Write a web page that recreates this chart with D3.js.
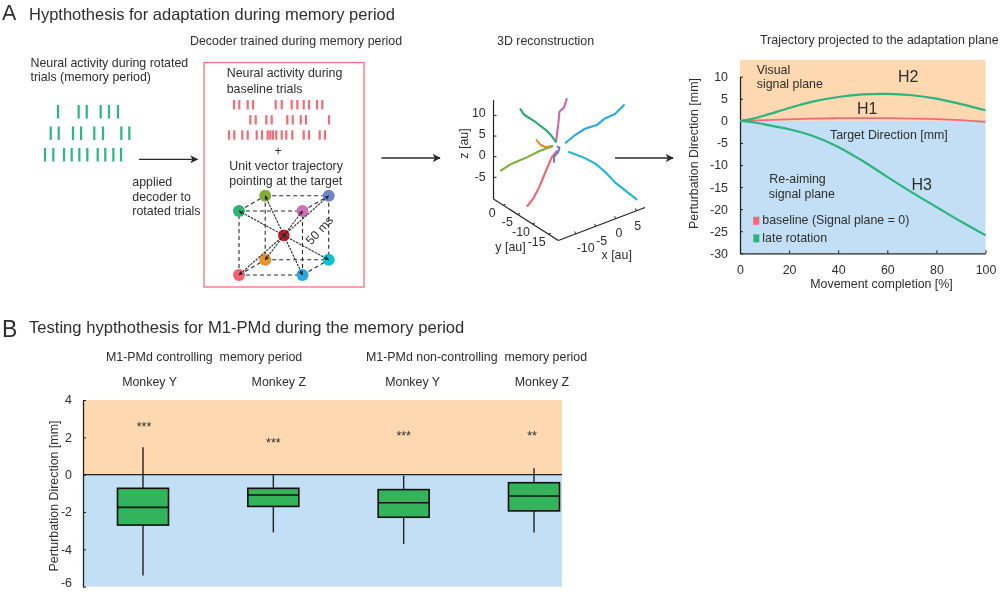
<!DOCTYPE html>
<html><head><meta charset="utf-8">
<script src="https://cdnjs.cloudflare.com/ajax/libs/d3/7.8.5/d3.min.js"></script>
<style>
html,body{margin:0;padding:0;background:#fff}
svg{display:block;filter:blur(0.35px)}
text{font-family:"Liberation Sans",Arial,sans-serif;fill:#2e2e2e}
</style></head><body>
<svg id="c" width="1000" height="592"></svg>
<script>
// ---- raster data (spike times, % of memory period)
const rotatedSpikes = [
 [15.3,39.6,49.1,65.5,75.3,85.9],
 [6.7,16.1,32.9,42.4,58,68.2,89.8,99.2],
 [0,9.8,22.4,31.4,40.4,49.8,62,70.9,80.4,89.4]];
const baselineSpikes = [
 [5,10.3,18.7,24,46.7,52.7,62.7,68.3,74.7,80,88,93.3],
 [21.3,26.7,37.3,42.7,58.3,63.7,71.7,77,100],
 [0,5.3,13.3,18.7,27.7,33,38.7,41.3,44,47.3,52.7,57.3,63.3,74.7,80,90.7,96]];
// ---- cube targets (unit vectors)
const targetNames = ["red","sky","green","magenta","olive","periwinkle","orange","cyan"];
const targetX = [-1,1,-1,1,-1,1,-1,1];
const targetY = [-1,-1,1,1,1,1,-1,-1];
const targetZ = [0,0,0,0,1,1,1,1];
const cubeEdges = [[0,1],[2,3],[4,5],[6,7],[0,2],[1,3],[4,6],[5,7],[0,6],[1,7],[2,4],[3,5]];
// ---- 3D reconstruction, projected to picture plane [u au, z au]
const traceMagenta = [[2.42,13.95],[1.77,11.94],[.65,10.89],[.4,8.06],[-.16,3.63]];
const traceSky = [[16.29,12.5],[14.11,10.32],[11.69,9.27],[9.68,7.66],[6.85,6.77],[4.44,5.24],[2.18,3.39]];
const traceGreen = [[-8.79,11.53],[-7.9,10.16],[-5.24,8.47],[-2.58,6.45],[-1.21,5],[-.24,3.63]];
const traceOrange = [[-4.84,4.03],[-3.87,2.82],[-2.82,2.34],[-1.05,2.58]];
const traceOlive = [[-13.47,-3.31],[-10.89,-1.69],[-7.26,-.16],[-4.03,1.45],[-1.05,2.5]];
const traceRed = [[-7.1,-11.94],[-5.65,-10.08],[-4.19,-7.26],[-2.42,-2.98],[-1.21,-.16],[0,1.37]];
const tracePeriwinkle = [[-.65,-1.21],[-.65,0],[.4,1.21],[.65,2.18],[.24,2.42]];
const traceCyan = [[19.35,-10.32],[16.94,-8.47],[14.11,-6.21],[11.69,-3.63],[9.27,-1.61],[6.45,-.16],[2.98,1.13]];
const axis3dCorners = {top:[-15.3,13.7],back:[-15.3,-10.24],front:[.4,-20.3],right:[21.4,-12.3]};
const zTicks3d = [10,5,0,-5];
const yTickLabels3d = ["0","-5","-10","-15"];
const xTickLabels3d = ["-10","-5","0","5"];
// ---- adaptation plane curves
const completion = [0,5,10,20,30,40,50,60,70,80,90,100];
const h1Values = [0,.08,.15,.35,.5,.6,.62,.6,.52,.4,.15,-.2];
const h2Values = [0,.45,1.2,2.9,4.4,5.4,6,6.1,5.8,5.05,3.8,2.4];
const h3Values = [0,-.3,-.8,-1.9,-3.5,-5.9,-9.1,-12.7,-16.2,-19.5,-22.8,-25.9];
const yTicksA = [10,5,0,-5,-10,-15,-20,-25,-30];
const xTicksA = [0,20,40,60,80,100];
// ---- box plot
const monkeys = ["Monkey Y","Monkey Z","Monkey Y","Monkey Z"];
const stars = ["***","***","***","**"];
const starValues = [2.6,1.75,2.1,2.1];
const whiskerHigh = [1.47,0,-.05,.34];
const q3 = [-.73,-.73,-.8,-.43];
const medians = [-1.75,-1.09,-1.5,-1.14];
const q1 = [-2.7,-1.7,-2.28,-1.94];
const whiskerLow = [-5.4,-3.09,-3.71,-3.1];
const yTicksB = [4,2,0,-2,-4,-6];

const svg = d3.select("#c");
function txt(t,x,y,size,opt={}){
  const e = svg.append("text").attr("x",x).attr("y",y).attr("font-size",size).text(t);
  if(opt.anchor) e.attr("text-anchor",opt.anchor);
  if(opt.rotate!==undefined) e.attr("transform",`rotate(${opt.rotate} ${x} ${y})`);
  if(opt.fill) e.style("fill",opt.fill);
  return e;
}
const defs = svg.append("defs");
function marker(id,size,col){
  defs.append("marker").attr("id",id).attr("viewBox","0 0 10 10").attr("refX",9).attr("refY",5)
    .attr("markerWidth",size).attr("markerHeight",size).attr("markerUnits","userSpaceOnUse").attr("orient","auto")
    .append("path").attr("d","M0,0L10,5L0,10L2.5,5Z").attr("fill",col);
}
marker("ah",8,"#2b2b2b"); marker("ahs",4.5,"#222");
const TXT=12.4, BG_O="#fdd8b0", BG_B="#c2dff5";
const hyphenFmt = d=>String(d);

// Headings
txt("A",2,19.5,21.5); txt("Hypthothesis for adaptation during memory period",29,20,16.5);
txt("B",2,337,23); txt("Testing hypthothesis for M1-PMd during the memory period",29,333,16.6);

// Left text
txt("Neural activity during rotated",30.5,66.5,TXT);
txt("trials (memory period)",30.5,81,TXT);
txt("applied",132.3,185.5,TXT); txt("decoder to",132.3,200.5,TXT); txt("rotated trials",132.3,215,TXT);
txt("Decoder trained during memory period",190,45,TXT);
txt("3D reconstruction",497,45,TXT);
txt("Trajectory projected to the adaptation plane",760,44,TXT);

// Rasters
const rotX = d3.scaleLinear().domain([0,100]).range([45,130]);
const rotRow = d3.scaleBand().domain(d3.range(3)).range([105,161.5]).paddingInner(.37);
rotatedSpikes.forEach((r,i)=>svg.append("g").selectAll("line").data(r).join("line")
  .attr("x1",rotX).attr("x2",rotX).attr("y1",rotRow(i)).attr("y2",rotRow(i)+rotRow.bandwidth())
  .attr("stroke","#2db67f").attr("stroke-width",2.2));
const baseX = d3.scaleLinear().domain([0,100]).range([229,329]);
const baseRow = d3.scaleBand().domain(d3.range(3)).range([100,139.7]).paddingInner(.38);
baselineSpikes.forEach((r,i)=>svg.append("g").selectAll("line").data(r).join("line")
  .attr("x1",baseX).attr("x2",baseX).attr("y1",baseRow(i)).attr("y2",baseRow(i)+baseRow.bandwidth())
  .attr("stroke","#f26c78").attr("stroke-width",2.2));

// Pink box
svg.append("rect").attr("x",204).attr("y",62.5).attr("width",160).attr("height",224.5)
  .attr("fill","none").attr("stroke","#f0747e").attr("stroke-width",1.3);
txt("Neural activity during",226.7,77.3,TXT); txt("baseline trials",226.7,92.5,TXT);
txt("+",278,155,TXT,{anchor:"middle"});
txt("Unit vector trajectory",229.3,170,TXT); txt("pointing at the target",229.3,185,TXT);

// Cube
const cubeX = d3.scaleLinear().domain([-1,1]).range([239,302.5]);
const cubeY = d3.scaleLinear().domain([-1,1]).range([275,211]);
const depthX = d3.scaleLinear().domain([0,1]).range([0,26.2]);
const depthY = d3.scaleLinear().domain([0,1]).range([0,-15.2]);
const px=i=>cubeX(targetX[i])+depthX(targetZ[i]), py=i=>cubeY(targetY[i])+depthY(targetZ[i]);
const cx0=cubeX(0)+depthX(.5), cy0=cubeY(0)+depthY(.5);
const targetColors=["#f2636f","#2ba9e1","#2fb573","#d26fb6","#83ad38","#6f85c6","#e8932b","#16bcd1"];
svg.append("g").selectAll("line").data(cubeEdges).join("line")
  .attr("x1",d=>px(d[0])).attr("y1",d=>py(d[0])).attr("x2",d=>px(d[1])).attr("y2",d=>py(d[1]))
  .attr("stroke","#2a2a2a").attr("stroke-width",1.1).attr("stroke-dasharray","4 3");
svg.append("g").selectAll("circle").data(targetNames).join("circle")
  .attr("cx",(d,i)=>px(i)).attr("cy",(d,i)=>py(i)).attr("r",6).attr("fill",(d,i)=>targetColors[i]);
svg.append("circle").attr("cx",cx0).attr("cy",cy0).attr("r",5.8).attr("fill","#c81e25");
svg.append("g").selectAll("line").data(targetNames).join("line")
  .attr("x1",cx0).attr("y1",cy0).attr("x2",(d,i)=>px(i)).attr("y2",(d,i)=>py(i))
  .attr("stroke","#2a2a2a").attr("stroke-width",1.1).attr("stroke-dasharray","2.5 1")
  .attr("marker-end","url(#ahs)");
txt("50 ms",311,245.5,TXT,{rotate:-47});

// Arrows
[[139,197.5,159.3],[381.5,440,158],[615,673,158]].forEach(a=>
  svg.append("line").attr("x1",a[0]).attr("x2",a[1]).attr("y1",a[2]).attr("y2",a[2])
   .attr("stroke","#2b2b2b").attr("stroke-width",1.3).attr("marker-end","url(#ah)"));

// 3D plot
const uS = d3.scaleLinear().domain([0,10]).range([556.7,598]);
const zS = d3.scaleLinear().domain([0,10]).range([156.7,115.4]);
const c=axis3dCorners;
[[c.top,c.back],[c.back,c.front],[c.front,c.right]].forEach(s=>
  svg.append("line").attr("x1",uS(s[0][0])).attr("y1",zS(s[0][1])).attr("x2",uS(s[1][0])).attr("y2",zS(s[1][1]))
   .attr("stroke","#222").attr("stroke-width",1.2));
svg.append("g").selectAll("line").data(zTicks3d).join("line")
  .attr("x1",uS(c.top[0])).attr("x2",uS(c.top[0])+3).attr("y1",zS).attr("y2",zS).attr("stroke","#222");
const axisFrac = (a,b,f)=>[a[0]+(b[0]-a[0])*f,a[1]+(b[1]-a[1])*f];
const yFracs=[.15,.37,.6,.85], xFracs=[.2,.43,.66,.9];
yFracs.forEach(f=>{const p=axisFrac(c.back,c.front,f);
  svg.append("line").attr("x1",uS(p[0])).attr("y1",zS(p[1])).attr("x2",uS(p[0])+2.5).attr("y2",zS(p[1])-1).attr("stroke","#222");});
xFracs.forEach(f=>{const p=axisFrac(c.front,c.right,f);
  svg.append("line").attr("x1",uS(p[0])).attr("y1",zS(p[1])).attr("x2",uS(p[0])-1).attr("y2",zS(p[1])-2.5).attr("stroke","#222");});
const line3=d3.line().x(d=>uS(d[0])).y(d=>zS(d[1])).curve(d3.curveLinear);
[[traceMagenta,"#c968b1"],[traceSky,"#2ba8df"],[traceGreen,"#2ba968"],[traceOrange,"#e58f27"],
 [traceOlive,"#7fae3d"],[traceRed,"#ee6573"],[tracePeriwinkle,"#6b80c4"],[traceCyan,"#1ab9cf"]].forEach(t=>
  svg.append("path").attr("d",line3(t[0])).attr("fill","none").attr("stroke",t[1]).attr("stroke-width",2.1).attr("stroke-linecap","round").attr("stroke-linejoin","round"));
[["10",116.7],["5",138],["0",159],["-5",180.5]].forEach(d=>txt(d[0],485.7,d[1],TXT,{anchor:"end"}));
txt("z [au]",467.5,143.5,TXT,{anchor:"middle",rotate:-90});
[[492.3,217],[507.3,226],[521,236],[536.7,246]].forEach((p,i)=>txt(yTickLabels3d[i],p[0],p[1],TXT,{anchor:"middle"}));
txt("y [au]",495.3,250.7,TXT);
[[585.7,252],[601.7,244.5],[619,237],[637.7,230]].forEach((p,i)=>txt(xTickLabels3d[i],p[0],p[1],TXT,{anchor:"middle"}));
txt("x [au]",616.7,258.5,TXT,{anchor:"middle"});

// Adaptation plane
const xA = d3.scaleLinear().domain([0,100]).range([740,985.5]);
const yA = d3.scaleLinear().domain([10,-30]).range([76.7,253.3]);
const topA = yA.invert(60);
svg.append("rect").attr("x",xA(0)).attr("y",yA(topA)).attr("width",xA(100)-xA(0)).attr("height",yA(0)-yA(topA)).attr("fill",BG_O);
svg.append("rect").attr("x",xA(0)).attr("y",yA(0)).attr("width",xA(100)-xA(0)).attr("height",yA(-30)-yA(0)).attr("fill",BG_B);
const axL = svg.append("g").attr("transform",`translate(${xA(0)},0)`).call(d3.axisLeft(yA).tickValues(yTicksA).tickSize(0).tickPadding(12).tickFormat(hyphenFmt));
axL.selectAll("line").attr("x2",3).attr("stroke","#222");
const axB = svg.append("g").attr("transform",`translate(0,${yA(-30)})`).call(d3.axisBottom(xA).tickValues(xTicksA).tickSizeInner(-3).tickSizeOuter(0).tickPadding(12));
[axL,axB].forEach(a=>{a.selectAll("path").attr("stroke","#222").attr("stroke-width",1.3);
  a.selectAll("line").attr("stroke","#222");
  a.selectAll("text").attr("font-size",TXT).attr("font-family",'"Liberation Sans",Arial,sans-serif').style("fill","#2e2e2e");});
const lineA=d3.line().x((d,i)=>xA(completion[i])).y(d=>yA(d)).curve(d3.curveCatmullRom);
svg.append("path").attr("d",lineA(h1Values)).attr("fill","none").attr("stroke","#f2697a").attr("stroke-width",1.8);
svg.append("path").attr("d",lineA(h2Values)).attr("fill","none").attr("stroke","#2bb47d").attr("stroke-width",2.2);
svg.append("path").attr("d",lineA(h3Values)).attr("fill","none").attr("stroke","#2bb47d").attr("stroke-width",2.2);
txt("Visual",756.7,74,TXT); txt("signal plane",756.7,88,TXT);
txt("H2",898,82,16); txt("H1",857,114,16); txt("H3",911.5,190,16);
txt("Target Direction [mm]",830,139,TXT);
txt("Re-aiming",769.3,183,TXT); txt("signal plane",768.7,197.7,TXT);
svg.append("rect").attr("x",753.3).attr("y",216.7).attr("width",6).attr("height",8).attr("fill","#f2697a");
svg.append("rect").attr("x",753.3).attr("y",234.3).attr("width",6).attr("height",8).attr("fill","#2bb47d");
txt("baseline (Signal plane = 0)",762.3,224,TXT); txt("late rotation",762.3,242,TXT);
txt("Perturbation Direction [mm]",698,153.5,TXT,{anchor:"middle",rotate:-90});
txt("Movement completion [%]",881.5,288,TXT,{anchor:"middle"});

// Box plots
txt("M1-PMd controlling  memory period",106,361,TXT).attr("xml:space","preserve");
txt("M1-PMd non-controlling  memory period",366,361,TXT).attr("xml:space","preserve");
const xB = d3.scaleLinear().domain([0,4]).range([83,562]);
const yB = d3.scaleLinear().domain([4,-6]).range([400,586.7]);
svg.append("rect").attr("x",xB(0)).attr("y",yB(4)).attr("width",xB(4)-xB(0)).attr("height",yB(0)-yB(4)).attr("fill",BG_O);
svg.append("rect").attr("x",xB(0)).attr("y",yB(0)).attr("width",xB(4)-xB(0)).attr("height",yB(-6)-yB(0)).attr("fill",BG_B);
const axY = svg.append("g").attr("transform",`translate(${xB(0)},0)`).call(d3.axisLeft(yB).tickValues(yTicksB).tickSize(0).tickPadding(11).tickFormat(hyphenFmt));
axY.selectAll("line").attr("x2",3).attr("stroke","#222");
axY.selectAll("path").attr("stroke","#222").attr("stroke-width",1.3);
axY.selectAll("text").attr("font-size",TXT).attr("font-family",'"Liberation Sans",Arial,sans-serif').style("fill","#2e2e2e");
axY.selectAll("text").filter(d=>d===-6).attr("dy","-0.02em");
svg.append("line").attr("x1",xB(0)).attr("x2",xB(4)).attr("y1",yB(0)).attr("y2",yB(0)).attr("stroke","#222").attr("stroke-width",1.2);
txt("Perturbation Direction [mm]",58,496,TXT,{anchor:"middle",rotate:-90});
const boxC = d3.scalePoint().domain(d3.range(4)).range([143,534]);
const boxW = 51;
monkeys.forEach((m,i)=>{
  const xc=boxC(i);
  svg.append("line").attr("x1",xc).attr("x2",xc).attr("y1",yB(whiskerHigh[i])).attr("y2",yB(whiskerLow[i])).attr("stroke","#222").attr("stroke-width",1.4);
  svg.append("rect").attr("x",xc-boxW/2).attr("width",boxW).attr("y",yB(q3[i])).attr("height",yB(q1[i])-yB(q3[i]))
    .attr("fill","#33b35a").attr("stroke","#111").attr("stroke-width",1.6);
  svg.append("line").attr("x1",xc-boxW/2).attr("x2",xc+boxW/2).attr("y1",yB(medians[i])).attr("y2",yB(medians[i])).attr("stroke","#111").attr("stroke-width",1.6);
  txt(stars[i],xc+(i==3?-2:i==0?1:0),yB(starValues[i])+5,TXT,{anchor:"middle"});
});
[149.6,278.8,412.7,541.9].forEach((x,i)=>txt(monkeys[i],x,386,TXT,{anchor:"middle"}));
</script>
</body></html>
